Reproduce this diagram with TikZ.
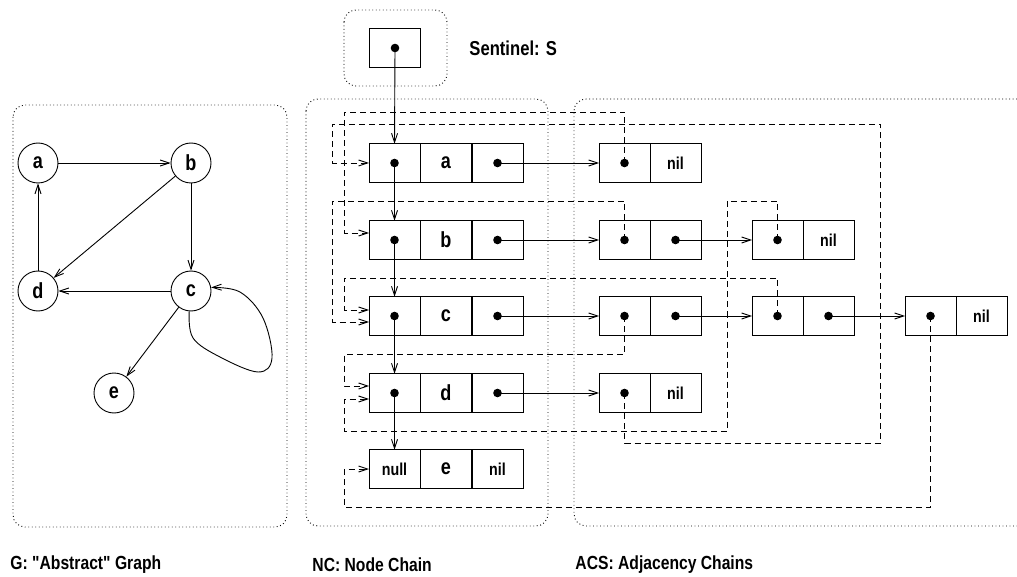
\documentclass[tikz,border=0pt]{standalone}
\usepackage{fontspec}
\setmainfont{Liberation Sans}[Ligatures=TeXOff]
\usetikzlibrary{arrows.meta}

% xfig-ish tall letters
\newcommand{\stretched}[1]{\scalebox{0.95}[1.15]{#1}}

\tikzset{
  slot/.style={draw, minimum width=51pt, minimum height=38.5pt, inner sep=0pt, outer sep=0pt,
    font=\fontsize{19}{19}\selectfont\bfseries},
  nilslot/.style={slot, font=\fontsize{15}{15}\selectfont\bfseries},
  vtx/.style={draw, circle, minimum size=40pt, inner sep=0pt, font=\fontsize{19}{19}\selectfont\bfseries},
  zone/.style={dash pattern=on 0.9pt off 2.6pt, rounded corners=12pt},
  link/.style={-{Straight Barb[length=9pt,width=6pt]}},
  ptr/.style={link, dash pattern=on 6pt off 4pt},
  ttl/.style={anchor=west, inner sep=0pt, font=\fontsize{17.5}{17.5}\selectfont\bfseries},
  legend/.style={ttl, font=\fontsize{16.5}{16.5}\selectfont\bfseries},
}

\begin{document}
\begin{tikzpicture}[x=1pt, y=-1pt, line width=0.9pt]
  \useasboundingbox (0,0) rectangle (1017,577);

  % G
  \node[vtx] (a) at (38,163) {\stretched{a}};
  \node[vtx] (b) at (191,163) {\stretched{b}};
  \node[vtx] (d) at (38,291) {\stretched{d}};
  \node[vtx] (c) at (191,291) {\stretched{c}};
  \node[vtx] (e) at (114,393) {\stretched{e}};
  \draw[link] (a) -- (b);
  \draw[link] (b) -- (c);
  \draw[link] (b) -- (d);
  \draw[link] (d) -- (a);
  \draw[link] (c) -- (d);
  \draw[link] (c) -- (e);
  \draw[link] plot[smooth, tension=0.6] coordinates
    {(c.-95) (193,338) (220,357) (258,372) (272,358) (263,318) (240,292) (c.10)};
  \draw[zone] (13,105) rectangle (287,527);

  % NC
  \foreach \k/\y in {a/163,b/240,c/316,d/393}{
    \node[slot] (\k-p) at (394.5,\y) {};
    \node[slot] (\k-k) at (446,\y) {\stretched{\k}};
    \node[slot] (\k-n) at (497.5,\y) {};
  }
  \node[nilslot] (e-p) at (394.5,469) {\stretched{null}};
  \node[slot] (e-k) at (446,469) {\stretched{e}};
  \node[nilslot] (e-n) at (497.5,469) {\stretched{nil}};

  % ACS
  \node[slot] (a1-v) at (624.5,163) {};
  \node[nilslot] (a1-n) at (675.5,163) {\stretched{nil}};
  \node[slot] (b1-v) at (624.5,240) {};
  \node[slot] (b1-n) at (675.5,240) {};
  \node[slot] (b2-v) at (777.5,240) {};
  \node[nilslot] (b2-n) at (828.5,240) {\stretched{nil}};
  \node[slot] (c1-v) at (624.5,316) {};
  \node[slot] (c1-n) at (675.5,316) {};
  \node[slot] (c2-v) at (777.5,316) {};
  \node[slot] (c2-n) at (828.5,316) {};
  \node[slot] (c3-v) at (930.5,316) {};
  \node[nilslot] (c3-n) at (981.5,316) {\stretched{nil}};
  \node[slot] (d1-v) at (624.5,393) {};
  \node[nilslot] (d1-n) at (675.5,393) {\stretched{nil}};

  % S
  \node[slot] (s) at (395,48) {};
  \draw[zone] (344,10) rectangle (447,86);
  \node[ttl] (capS) at (469,48) {\stretched{Sentinel: S}};

  % back pointers into NC
  \draw[ptr] (a1-v.center) |- (344,112) |- ([yshift=7pt]b-p.west);
  \draw[ptr] (d1-v.center) |- (880,443) |- (332,124) |- (a-p.west);
  \draw[ptr] (b1-v.center) |- (332,201) |- ([yshift=-6pt]c-p.west);
  \draw[ptr] (b2-v.center) |- (727,201) |- (344,431) |- ([yshift=-6pt]d-p.west);
  \draw[ptr] (c1-v.center) |- (344,354) |- ([yshift=7pt]d-p.west);
  \draw[ptr] (c2-v.center) |- (344,278) |- ([yshift=6pt]c-p.west);
  \draw[ptr] (c3-v.center) |- (344,507) |- (e-p.west);

  % chain links
  \draw[link] (s.center) -- (a-p.north);
  \draw[link] (a-p.center) -- (b-p.north);
  \draw[link] (b-p.center) -- (c-p.north);
  \draw[link] (c-p.center) -- (d-p.north);
  \draw[link] (d-p.center) -- (e-p.north);
  \draw[link] (a-n.center) -- (a1-v.west);
  \draw[link] (b-n.center) -- (b1-v.west);
  \draw[link] (b1-n.center) -- (b2-v.west);
  \draw[link] (c-n.center) -- (c1-v.west);
  \draw[link] (c1-n.center) -- (c2-v.west);
  \draw[link] (c2-n.center) -- (c3-v.west);
  \draw[link] (d-n.center) -- (d1-v.west);

  \foreach \n in {s,a-p,a-n,b-p,b-n,c-p,c-n,d-p,d-n,a1-v,b1-v,b1-n,b2-v,
                  c1-v,c1-n,c2-v,c2-n,c3-v,d1-v}
    \fill (\n.center) circle [radius=4.3pt];

  \draw[zone] (306,99) rectangle (548,526);
  \draw[zone] (1017,99) -- (574,99) -- (574,526) -- (1017,526);

  \node[legend] (capG) at (10,565) {\stretched{G: "Abstract" Graph}};
  \node[legend] (capNC) at (312,565) {\stretched{NC: Node Chain}};
  \node[legend] (capACS) at (575,565) {\stretched{ACS: Adjacency Chains}};
\end{tikzpicture}
\end{document}
